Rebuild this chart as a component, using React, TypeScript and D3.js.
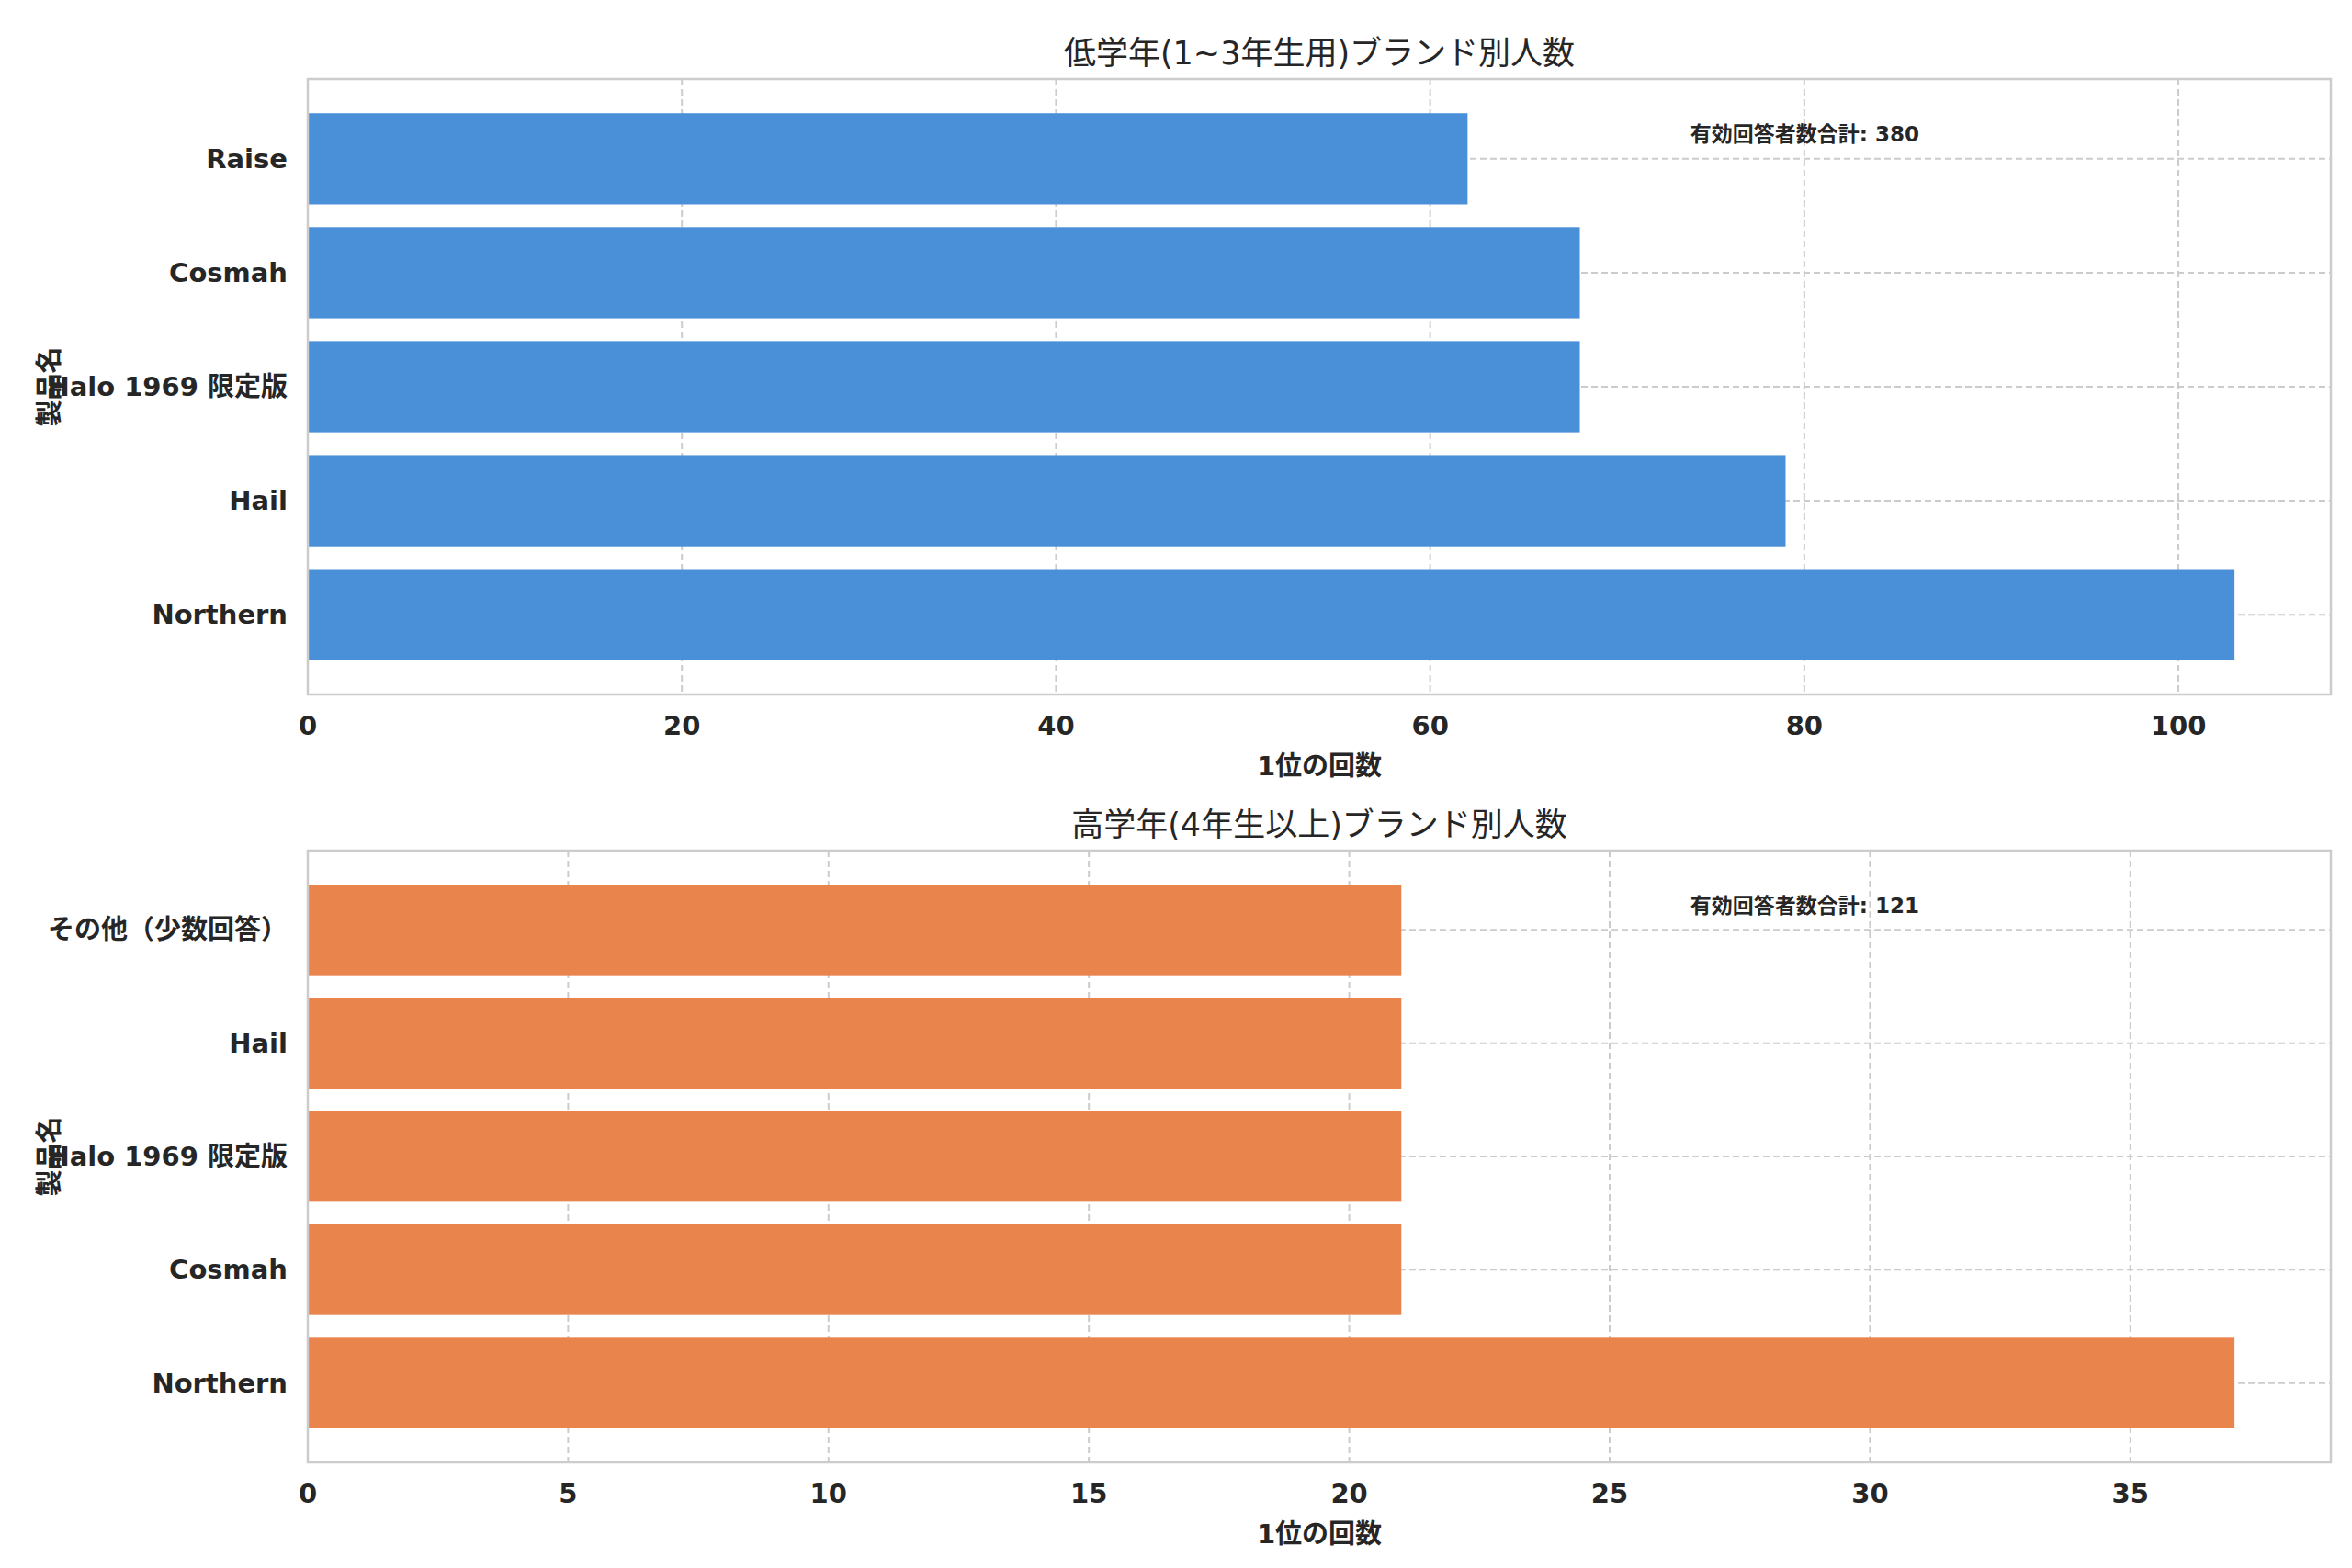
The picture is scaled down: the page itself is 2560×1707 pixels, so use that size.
import * as d3 from "d3";
import * as React from "react";

const topCats = ["Northern", "Hail", "Halo 1969 限定版", "Cosmah", "Raise"];
const topVals = [103, 79, 68, 68, 62];
const botCats = ["Northern", "Cosmah", "Halo 1969 限定版", "Hail", "その他（少数回答）"];
const botVals = [37, 21, 21, 21, 21];
const titles = ["低学年(1~3年生用)ブランド別人数", "高学年(4年生以上)ブランド別人数"];
const totals = [380, 121];
const colors = ["#4a90d9", "#e8844c"];

const W = 2560, H = 1707;
const left = 327, right = 2529;
const FONT = "DejaVu Sans, Noto Sans CJK JP, sans-serif";

function Panel(props: { cats: string[]; vals: number[]; title: string; total: number; color: string; top: number; bottom: number }) {
    const { cats, vals, top, bottom } = props;
    const x = d3.scaleLinear().domain([0, d3.max(vals)! * 1.05]).range([left, right]);
    const y = d3.scaleBand().domain(cats.slice().reverse()).range([top, bottom]).paddingInner(0.2).paddingOuter(0.3);
    const ticks = x.ticks(6).filter(t => t <= x.domain()[1]);
    return (
        <g fontFamily={FONT}>
            {ticks.map(t => (
                <line key={"g" + t} x1={x(t)} x2={x(t)} y1={top} y2={bottom} stroke="#cccccc" strokeWidth={2} strokeDasharray="7,4" />
            ))}
            {cats.map(c => (
                <line key={"h" + c} x1={left} x2={right} y1={y(c)! + y.bandwidth() / 2} y2={y(c)! + y.bandwidth() / 2} stroke="#cccccc" strokeWidth={2} strokeDasharray="7,4" />
            ))}
            {cats.map((c, i) => (
                <rect key={c} x={x(0)} y={y(c)} width={x(vals[i]) - x(0)} height={y.bandwidth()} fill={props.color} />
            ))}
            <rect x={left} y={top} width={right - left} height={bottom - top} fill="none" stroke="#cccccc" strokeWidth={2.5} />
            {ticks.map(t => (
                <text key={"t" + t} x={x(t)} y={bottom + 44} textAnchor="middle" fontSize={29} fontWeight="bold" fill="#262626">{t}</text>
            ))}
            {cats.map(c => (
                <text key={"l" + c} x={left - 22} y={y(c)! + y.bandwidth() / 2} dy="0.35em" textAnchor="end" fontSize={29} fontWeight="bold" fill="#262626">{c}</text>
            ))}
            <text x={(left + right) / 2} y={top - 16} textAnchor="middle" fontSize={35} fill="#262626">{props.title}</text>
            <text x={(left + right) / 2} y={bottom + 88} textAnchor="middle" fontSize={29} fontWeight="bold" fill="#262626">1位の回数</text>
            <text transform={`translate(56,${(top + bottom) / 2}) rotate(-90)`} textAnchor="middle" fontSize={29} fontWeight="bold" fill="#262626">製品名</text>
            <text x={left + 0.74 * (right - left)} y={top + 68} textAnchor="middle" fontSize={23} fontWeight="bold" fill="#262626">{`有効回答者数合計: ${props.total}`}</text>
        </g>
    );
}

export default function App(): JSX.Element {
    return (
        <svg width={W} height={H} style={{ display: "block", background: "#fff" }}>
            <rect width={W} height={H} fill="#fff" />
            <Panel cats={topCats} vals={topVals} title={titles[0]} total={totals[0]} color={colors[0]} top={78} bottom={748} />
            <Panel cats={botCats} vals={botVals} title={titles[1]} total={totals[1]} color={colors[1]} top={918} bottom={1584} />
        </svg>
    );
}
